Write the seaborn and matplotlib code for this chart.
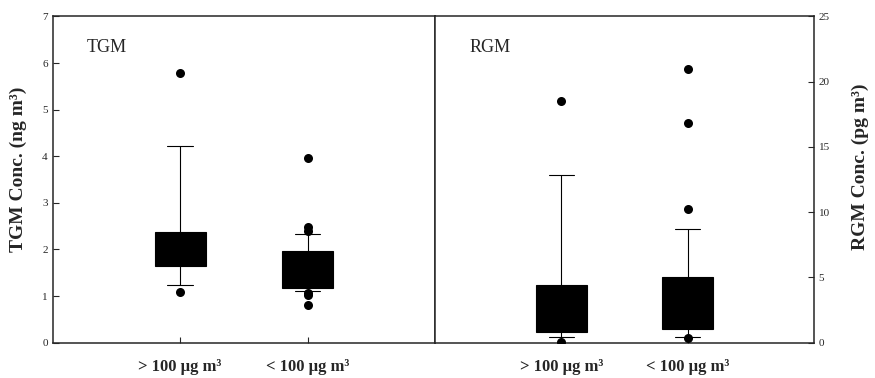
import seaborn as sns
import matplotlib.pyplot as plt
import pandas as pd

# box summaries (lower whisker, Q1, median, Q3, upper whisker)
groups = ["> 100 µg m³", "< 100 µg m³"]
tgm_high = [1.24, 1.65, 1.95, 2.38, 4.23]
tgm_low = [1.11, 1.18, 1.55, 1.97, 2.34]
rgm_high = [0.45, 0.81, 2.0, 4.44, 12.87]
rgm_low = [0.45, 1.06, 2.5, 5.0, 8.68]

# points outside the whiskers
tgm_high_out = [5.78, 1.09]
tgm_low_out = [3.97, 2.48, 2.39, 1.07, 1.02, 0.80]
rgm_high_out = [18.5, 0.08]
rgm_low_out = [21.0, 16.87, 10.28, 0.38]


def long_df(a, b):
    return pd.DataFrame({"group": [groups[0]] * len(a) + [groups[1]] * len(b),
                         "val": list(a) + list(b)})


sns.set_style("ticks")
plt.rcParams["font.family"] = ["Liberation Serif", "DejaVu Serif"]

fig = plt.figure(figsize=(8.75, 3.78), dpi=100)
ax1 = fig.add_axes([0.0602, 0.0934, 0.437, 0.863])
ax2 = fig.add_axes([0.4971, 0.0934, 0.433, 0.863])

panels = [
    (ax1, tgm_high, tgm_low, tgm_high_out, tgm_low_out, "TGM", 7, range(0, 8)),
    (ax2, rgm_high, rgm_low, rgm_high_out, rgm_low_out, "RGM", 25, range(0, 26, 5)),
]

for ax, hi, lo, hi_out, lo_out, name, top, ticks in panels:
    sns.boxplot(data=long_df(hi, lo), x="group", y="val", order=groups, ax=ax,
                color="black", saturation=1, whis=(0, 100), width=0.4,
                showfliers=False, linecolor="black", linewidth=0.8)
    sns.stripplot(data=long_df(hi_out, lo_out), x="group", y="val", order=groups,
                  ax=ax, jitter=False, color="black", size=6.5)
    ax.set_xlim(-1, 2)
    ax.set_ylim(0, top)
    ax.set_yticks(list(ticks))
    ax.set_xticks([0, 1])
    ax.set_xticklabels(groups, fontsize=12, fontweight="bold")
    ax.tick_params(axis="x", direction="in", length=4, pad=12, width=0.8)
    ax.tick_params(axis="y", direction="in", length=4, labelsize=8, width=0.8)
    ax.set_xlabel("")
    ax.text(0.09, 0.905, name, transform=ax.transAxes, fontsize=13,
            ha="left", va="center")
    for s in ax.spines.values():
        s.set_linewidth(1.1)
        s.set_visible(True)

ax1.set_ylabel("TGM Conc. (ng m³)", fontsize=14, fontweight="bold")
ax1.yaxis.set_label_coords(-0.066, 0.53)
ax2.yaxis.tick_right()
ax2.yaxis.set_label_position("right")
ax2.set_ylabel("RGM Conc. (pg m³)", fontsize=14, fontweight="bold", rotation=90)
ax2.yaxis.set_label_coords(1.1, 0.54)

plt.savefig("out.png", dpi=100)
